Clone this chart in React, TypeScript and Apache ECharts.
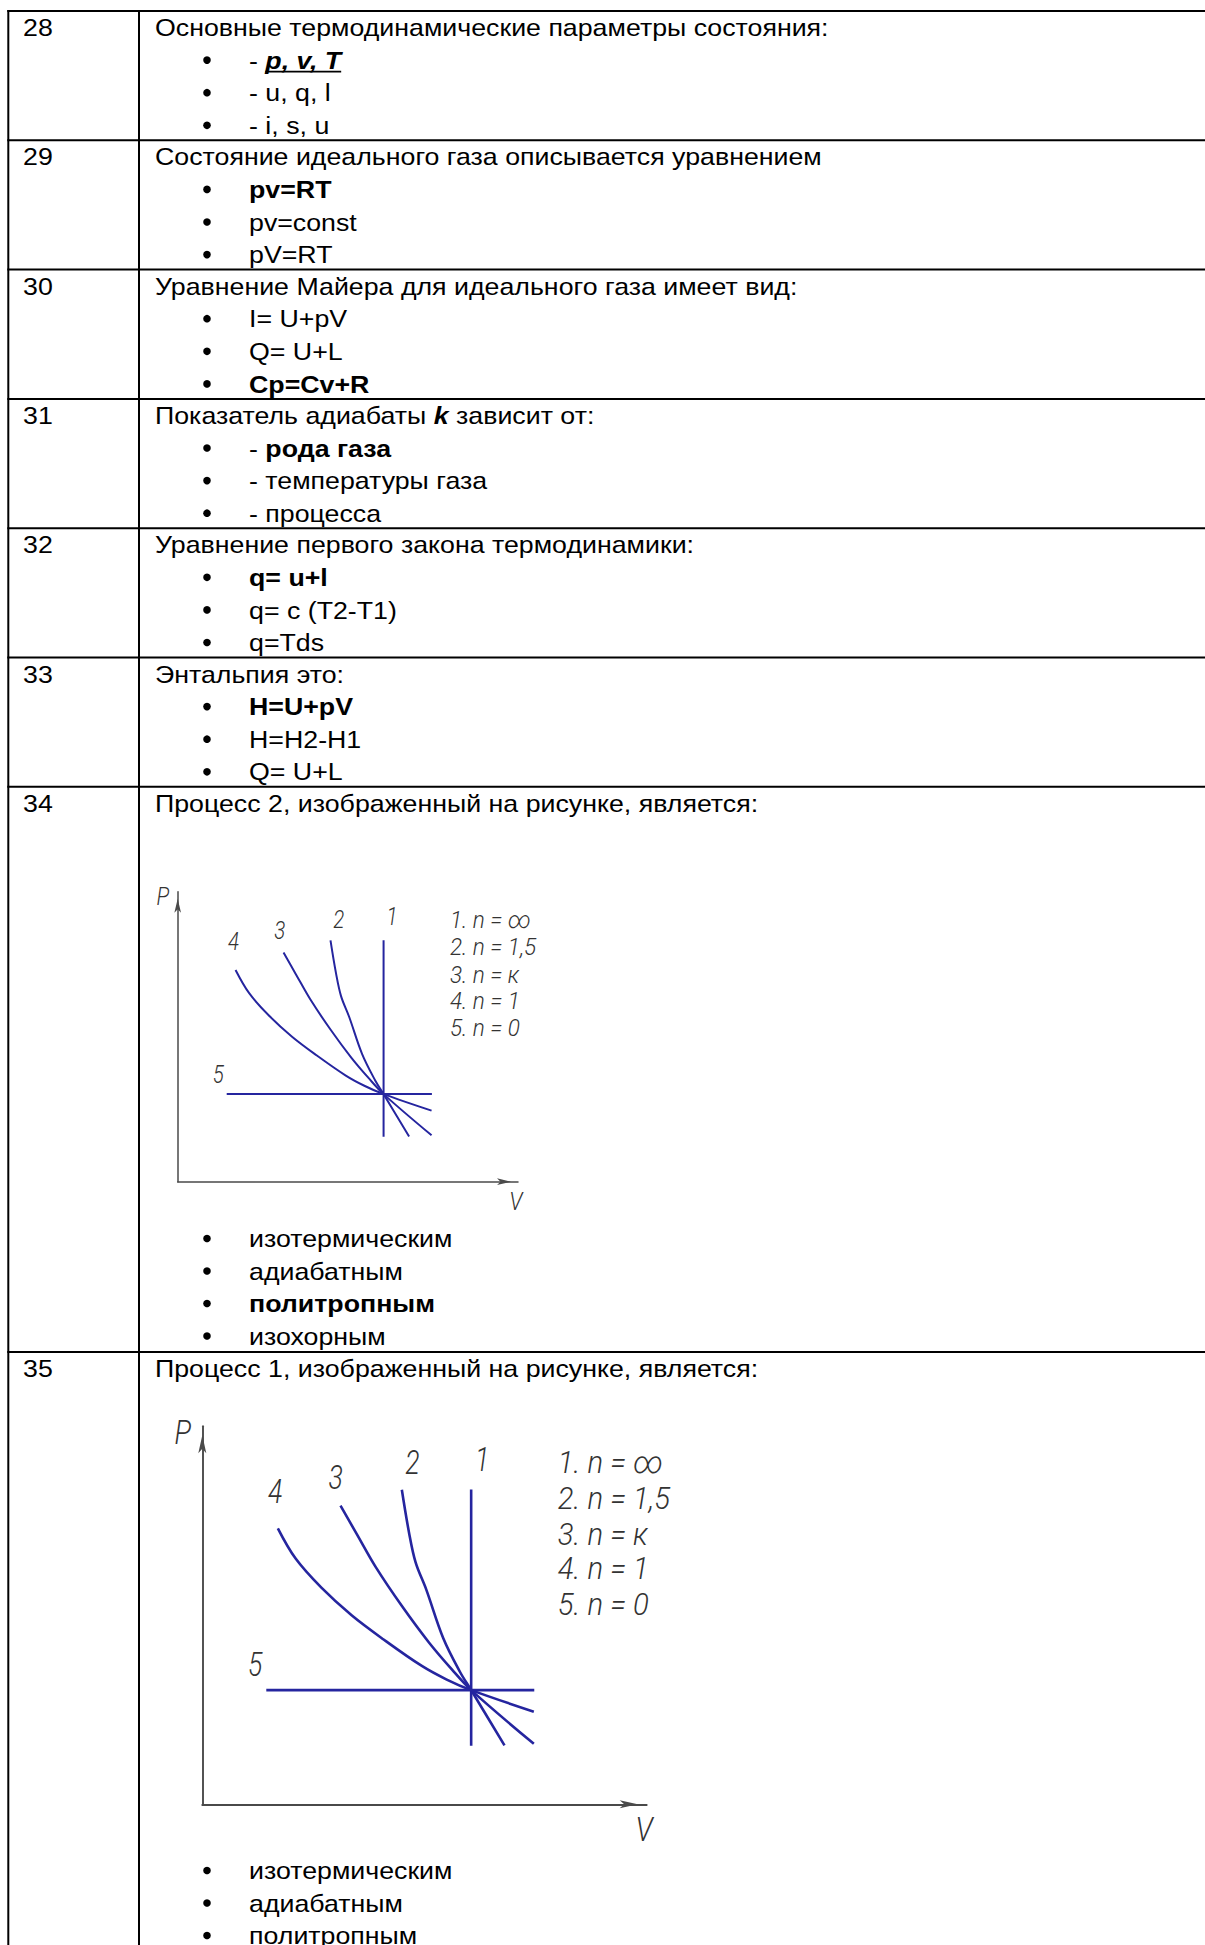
import React, { useEffect, useRef } from 'react';
import * as echarts from 'echarts';

// ---------- table content ----------
const questionNumbers = ['28', '29', '30', '31', '32', '33', '34', '35'];
const questionTexts = [
  'Основные термодинамические параметры состояния:',
  'Состояние идеального газа описывается уравнением',
  'Уравнение Майера для идеального газа имеет вид:',
  'Показатель адиабаты {bi|k} зависит от:',
  'Уравнение первого закона термодинамики:',
  'Энтальпия это:',
  'Процесс 2, изображенный на рисунке, является:',
  'Процесс 1, изображенный на рисунке, является:',
];
const answerOptions = [
  ['- {bi|p, v, T}', '- u, q, l', '- i, s, u'],
  ['{b|pv=RT}', 'pv=const', 'pV=RT'],
  ['I= U+pV', 'Q= U+L', '{b|Cp=Cv+R}'],
  ['- {b|рода газа}', '- температуры газа', '- процесса'],
  ['{b|q= u+l}', 'q= c (T2-T1)', 'q=Tds'],
  ['{b|H=U+pV}', 'H=H2-H1', 'Q= U+L'],
  ['изотермическим', 'адиабатным', '{b|политропным}', 'изохорным'],
  ['изотермическим', 'адиабатным', 'политропным'],
];

// ---------- diagram content (V, P in drawing units 0..100) ----------
const curve1 = [[60.5, 83.3], [60.5, 15.5]]; // n = ∞
const curve2 = [[44.9, 83.2], [46.5, 72.0], [48.0, 64.0], [50.4, 56.8], [54.2, 44.0], [58.0, 35.0], [60.5, 30.2], [68.0, 15.6]]; // n = 1,5
const curve3 = [[31.1, 79.0], [34.8, 71.4], [39.0, 62.8], [45.0, 52.3], [51.0, 42.8], [56.2, 35.6], [60.5, 30.2], [74.6, 16.0]]; // n = k
const curve4 = [[17.0, 73.0], [21.0, 65.0], [26.8, 57.3], [33.6, 50.0], [40.8, 43.6], [49.4, 36.6], [55.0, 33.0], [60.5, 30.2], [74.6, 24.5]]; // n = 1
const curve5 = [[14.4, 30.2], [74.7, 30.2]]; // n = 0
const curveLabels = [
  { text: '4', v: 16.4, p: 82.7 },
  { text: '3', v: 30.0, p: 86.4 },
  { text: '2', v: 47.3, p: 90.4 },
  { text: '1', v: 63.0, p: 91.2 },
  { text: '5', v: 11.9, p: 37.0 },
];
const legendTexts = ['1. n = ∞', '2. n = 1,5', '3. n = к', '4. n = 1', '5. n = 0'];
const legendP = [90.4, 81.0, 71.5, 62.5, 53.0];
const legendV = 80;
const axisNames = [
  { text: 'P', v: -4.4, p: 98.4, size: 25 },
  { text: 'V', v: 99.4, p: -6.7, size: 26 },
];

// ---------- styling ----------
const FONT = '"Liberation Sans", Arial, sans-serif';
const DFONT = 'Roboto, "DejaVu Sans", sans-serif';
const FS = 24;
const SX = 1.115;
const BLUE = '#25259f';
const AXIS = '#4a4a4a';
const LABEL = '#333333';

const ROW_TOP = [11, 140.3, 269.6, 398.9, 528.2, 657.5, 786.8, 1352];
const LH = 32.6;
const TABLE_LEFT = 8.3;
const COL_X = 139;

const RICH = {
  b: { fontSize: FS, fontFamily: FONT, fontWeight: 'bold', fill: '#000' },
  bi: { fontSize: FS, fontFamily: FONT, fontWeight: 'bold', fontStyle: 'italic', fill: '#000' },
};

function textEl(x: number, baseline: number, text: string) {
  return {
    type: 'text',
    x,
    y: baseline - 8.3,
    scaleX: SX,
    silent: true,
    z: 10,
    style: {
      text,
      fill: '#000',
      fontSize: FS,
      fontFamily: FONT,
      align: 'left',
      verticalAlign: 'middle',
      rich: RICH,
    },
  };
}

function headerBaseline(r: number) {
  return ROW_TOP[r] + 25;
}
function optionBaseline(r: number, i: number) {
  if (r < 6) return ROW_TOP[r] + 25 + LH * (i + 1);
  if (r === 6) return 1247 + 32.5 * i;
  return 1879 + 32.5 * i;
}

function diagramSeries(gi: number, lw: number) {
  const curves = [curve1, curve2, curve3, curve4, curve5];
  return curves.map((d, idx) => ({
    type: 'line',
    xAxisIndex: gi,
    yAxisIndex: gi,
    data: d,
    smooth: idx === 0 || idx === 4 ? false : 0.35,
    symbol: 'none',
    silent: true,
    lineStyle: { color: BLUE, width: lw },
    z: 3,
  }));
}

function axisPair(gi: number, w: number, arrowW: number, arrowH: number) {
  const line = {
    show: true,
    onZero: false,
    symbol: ['none', 'arrow'],
    symbolSize: [arrowW, arrowH],
    symbolOffset: [0, -arrowH / 2],
    lineStyle: { color: AXIS, width: w },
  };
  const common = {
    gridIndex: gi,
    type: 'value',
    min: 0,
    max: 100,
    axisLine: line,
    axisTick: { show: false },
    axisLabel: { show: false },
    splitLine: { show: false },
  };
  return { x: { ...common }, y: { ...common } };
}

export default function App() {
  const ref = useRef<HTMLDivElement>(null);

  useEffect(() => {
    document.body.style.margin = '0';
    const chart = echarts.init(ref.current!, null, { renderer: 'svg' });

    const ctx = document.createElement('canvas').getContext('2d')!;
    ctx.font = `${FS}px "Liberation Sans"`;
    const dashW = ctx.measureText('- ').width * SX;
    ctx.font = `italic bold ${FS}px "Liberation Sans"`;
    const pvtW = ctx.measureText('p, v, T').width * SX;

    const graphic: any[] = [];
    const lineStyle = { stroke: '#000', lineWidth: 2 };
    graphic.push({ type: 'line', silent: true, z: 5, shape: { x1: TABLE_LEFT, y1: ROW_TOP[0] - 1, x2: TABLE_LEFT, y2: 1945 }, style: lineStyle });
    graphic.push({ type: 'line', silent: true, z: 5, shape: { x1: COL_X, y1: ROW_TOP[0] - 1, x2: COL_X, y2: 1945 }, style: lineStyle });
    ROW_TOP.forEach((y) => {
      graphic.push({ type: 'line', silent: true, z: 5, shape: { x1: TABLE_LEFT - 1, y1: y, x2: 1205, y2: y }, style: lineStyle });
    });

    questionNumbers.forEach((n, r) => {
      graphic.push(textEl(23, headerBaseline(r), n));
      graphic.push(textEl(155, headerBaseline(r), questionTexts[r]));
      answerOptions[r].forEach((opt, i) => {
        const b = optionBaseline(r, i);
        graphic.push({ type: 'circle', silent: true, z: 10, shape: { cx: 207, cy: b - 8.5, r: 3.8 }, style: { fill: '#000' } });
        graphic.push(textEl(249, b, opt));
      });
    });
    const ub = optionBaseline(0, 0) + 3;
    graphic.push({
      type: 'line',
      silent: true,
      z: 10,
      shape: { x1: 249 + dashW, y1: ub, x2: 249 + dashW + pvtW, y2: ub },
      style: { stroke: '#000', lineWidth: 1.6 },
    });

    const a1 = axisPair(0, 1.5, 5, 14);
    const a2 = axisPair(1, 1.9, 6, 18);

    const base = {
      animation: false,
      backgroundColor: '#fff',
      grid: [
        { left: 177.7, top: 891.7, width: 340.3, height: 290 },
        { left: 202.3, top: 1426.3, width: 444.4, height: 378 },
      ],
      xAxis: [a1.x, a2.x],
      yAxis: [a1.y, a2.y],
      series: [...diagramSeries(0, 2), ...diagramSeries(1, 2.6)],
    };
    chart.setOption(base);

    const dlabel = (gi: number, v: number, p: number, text: string, size: number, align: string, sx: number) => {
      const pt = chart.convertToPixel({ gridIndex: gi }, [v, p]) as number[];
      return {
        type: 'text',
        x: pt[0],
        y: pt[1],
        scaleX: sx,
        silent: true,
        z: 10,
        style: {
          text,
          fill: LABEL,
          fontSize: size,
          fontFamily: DFONT,
          fontStyle: 'italic',
          fontWeight: 300,
          align,
          verticalAlign: 'middle',
        },
      };
    };
    [0, 1].forEach((gi) => {
      const k = gi === 0 ? 1 : 1.3;
      curveLabels.forEach((l) => graphic.push(dlabel(gi, l.v, l.p, l.text, 25 * k, 'center', 0.82)));
      legendTexts.forEach((t, i) => graphic.push(dlabel(gi, legendV, legendP[i], t, 24 * k, 'left', 0.94)));
      axisNames.forEach((l) => graphic.push(dlabel(gi, l.v, l.p, l.text, l.size * k, 'center', 0.85)));
    });

    chart.setOption({ ...base, graphic });

    return () => chart.dispose();
  }, []);

  return <div ref={ref} style={{ width: 1205, height: 1945, overflow: 'hidden' }} />;
}
